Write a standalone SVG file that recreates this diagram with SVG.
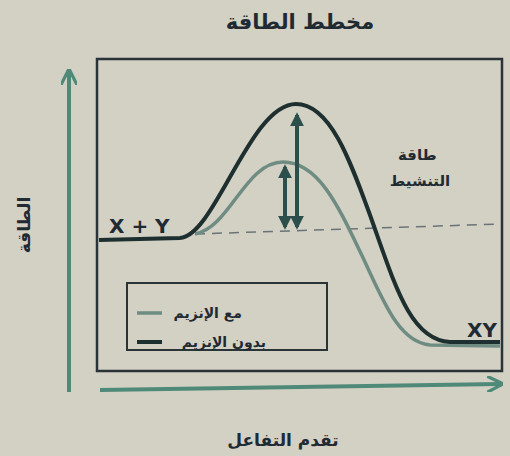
<svg xmlns="http://www.w3.org/2000/svg" width="510" height="456" viewBox="0 0 510 456">
<style>
.t{font-family:"DejaVu Sans","Noto Sans",sans-serif;fill:#1f2a33;font-weight:bold}
.axis{stroke:#4f8a79;stroke-width:4;fill:none}
.dark{stroke:#1d2f2e;stroke-width:4;fill:none}
.light{stroke:#6f8c82;stroke-width:3.5;fill:none}
.arr{stroke:#2c4f4c;stroke-width:4;fill:none}
</style>
<defs>
<marker id="ah" viewBox="0 0 10 10" refX="8" refY="5" markerWidth="3.5" markerHeight="3.5" orient="auto-start-reverse"><path d="M0,0L10,5L0,10z" fill="#2c4f4c"/></marker>
<marker id="ag" viewBox="0 0 10 10" refX="8" refY="5" markerWidth="4" markerHeight="4" orient="auto"><path d="M0,0L10,5L0,10" fill="none" stroke="#4f8a79" stroke-width="2"/></marker>
</defs>
<rect width="510" height="456" fill="#d3d0c4"/>
<g id="title"><text class="t" x="300" y="29" font-size="21" text-anchor="middle">مخطط الطاقة</text></g>
<g id="frame"><rect x="97" y="59" width="405" height="312" fill="none" stroke="#2a3338" stroke-width="2.5"/></g>
<g id="axes">
<path class="axis" d="M69,392 L69,72" marker-end="url(#ag)"/>
<path class="axis" d="M100,390 L500,384" marker-end="url(#ag)"/>
</g>
<g id="ylabel"><text class="t" transform="translate(30,225) rotate(-90)" font-size="17" text-anchor="middle">الطاقة</text></g>
<g id="xlabel"><text class="t" x="283" y="446" font-size="17" text-anchor="middle">تقدم التفاعل</text></g>
<g id="connectors">
<path d="M195,234 L500,224" stroke="#6a7478" stroke-width="1.5" stroke-dasharray="10,7" fill="none"/>
<path class="light" d="M195,234 C230,228 245,162 283,162 C320,162 340,210 365,262 C385,305 400,342 430,345 L500,346"/>
<path class="dark" d="M99,240 L180,238 C215,236 250,104 296,104 C330,104 350,160 370,215 C395,285 410,340 450,342 L500,342"/>
<path class="arr" d="M297,227 L297,115" marker-start="url(#ah)" marker-end="url(#ah)"/>
<path class="arr" d="M285,227 L285,167" marker-start="url(#ah)" marker-end="url(#ah)"/>
</g>
<g id="labels">
<text class="t" x="109" y="233" font-size="20">X + Y</text>
<text class="t" x="467" y="337" font-size="20">XY</text>
<text class="t" x="398" y="160" font-size="15">طاقة</text>
<text class="t" x="420" y="186" font-size="15" text-anchor="middle">التنشيط</text>
</g>
<g id="legend">
<rect x="127" y="283" width="200" height="67" fill="none" stroke="#2a3338" stroke-width="2"/>
<line x1="137" y1="313" x2="162" y2="313" stroke="#6f8c82" stroke-width="3.5"/>
<line x1="137" y1="342" x2="162" y2="342" stroke="#1d2f2e" stroke-width="4"/>
<text class="t" x="242" y="318" font-size="14" text-anchor="end">مع الإنزيم</text>
<text class="t" x="266" y="347" font-size="14" text-anchor="end">بدون الإنزيم</text>
</g>
</svg>
